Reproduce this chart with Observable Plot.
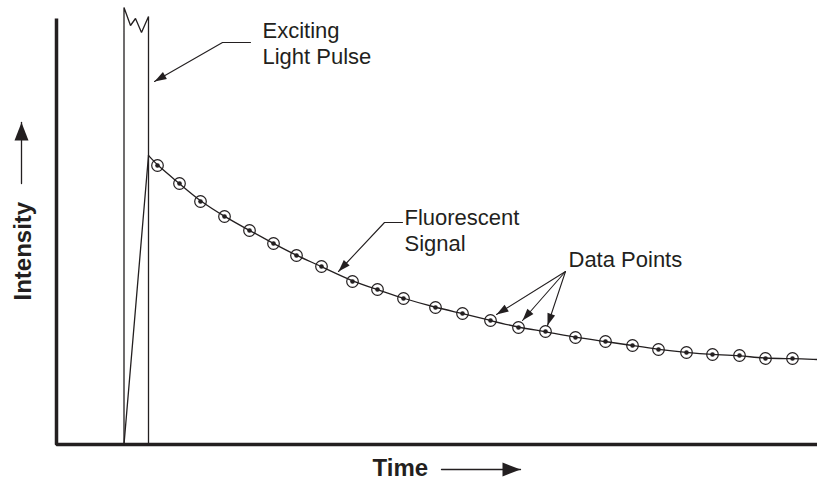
<!DOCTYPE html>
<html>
<head>
<meta charset="utf-8">
<script src="https://cdn.jsdelivr.net/npm/d3@7"></script>
<script src="https://cdn.jsdelivr.net/npm/@observablehq/plot@0.6"></script>
<style>
  html, body { margin: 0; padding: 0; background: #fff; }
  svg { display: block; }
</style>
</head>
<body>
<div id="chart"></div>
<script>
// ---- Data (time and intensity in arbitrary units) ----
const pointTime      = [10.1, 12.3, 14.4, 16.8, 19.3, 21.7, 24.0, 26.5, 29.6, 32.1, 34.7, 37.9, 40.6, 43.4, 46.2, 48.9, 51.9, 54.9, 57.6, 60.2, 63.0, 65.6, 68.3, 70.9, 73.6];
const pointIntensity = [27.9, 26.1, 24.3, 22.8, 21.4, 20.1, 18.9, 17.8, 16.3, 15.5, 14.6, 13.7, 13.1, 12.4, 11.7, 11.3, 10.7, 10.3, 9.9, 9.5, 9.2, 9.0, 8.9, 8.6, 8.6];

const signalStart = [9.2, 28.9];
const signalEnd   = [76.1, 8.5];

const pulseTime      = [6.75, 6.75, 7.4, 7.9, 8.5, 9.2, 9.2];
const pulseIntensity = [0, 43.7, 41.9, 42.6, 41.2, 42.8, 0];
const riseTime       = [6.75, 9.2];
const riseIntensity  = [0, 28.9];

const axisTime      = [0, 0, 76.1];
const axisIntensity = [42.6, 0, 0];

const labelText = ["Exciting\nLight Pulse", "Fluorescent\nSignal", "Data Points"];
const labelTime = [20.6, 34.8, 51.2];
const labelIntensity = [38.1, 19.4, 17.8];

// leader polylines: group, time, intensity (last point of each group is the arrow tip)
const leaderGroup     = ["a","a","a", "b","b","b", "c","c", "d","d", "e","e"];
const leaderTime      = [19.4, 16.6, 9.8,  34.6, 32.8, 28.2,  50.9, 44.0,  50.9, 46.6,  50.9, 49.1];
const leaderIntensity = [40.2, 40.2, 36.3, 22.2, 22.2, 17.3,  17.3, 13.0,  17.3, 12.4,  17.3, 11.9];

// axis titles
const axisTitleText = ["Intensity", "Time"];
const axisTitleTime = [-2.6, 31.6];
const axisTitleIntensity = [14.4, -3.1];
const axisTitleRotate = [-90, 0];

// axis-title arrows: tail -> tip
const titleArrowGroup = ["y","y","x","x"];
const titleArrowTime = [-3.5, -3.5, 38.5, 46.4];
const titleArrowIntensity = [26.1, 32.2, -2.5, -2.5];

// ---- Build tables ----
const points = pointTime.map((t, i) => ({t, v: pointIntensity[i]}));
const signal = [{t: signalStart[0], v: signalStart[1]}, ...points, {t: signalEnd[0], v: signalEnd[1]}];
const pulse = pulseTime.map((t, i) => ({t, v: pulseIntensity[i]}));
const rise = riseTime.map((t, i) => ({t, v: riseIntensity[i]}));
const axisLine = axisTime.map((t, i) => ({t, v: axisIntensity[i]}));
const labels = labelText.map((s, i) => ({s, t: labelTime[i], v: labelIntensity[i]}));
const leaders = leaderGroup.map((g, i) => ({g, t: leaderTime[i], v: leaderIntensity[i]}));
const titles = axisTitleText.map((s, i) => ({s, t: axisTitleTime[i], v: axisTitleIntensity[i], r: axisTitleRotate[i]}));
const titleArrows = titleArrowGroup.map((g, i) => ({g, t: titleArrowTime[i], v: titleArrowIntensity[i]}));

// arrow tips with direction from previous point (x and y scales are both 10 px per unit)
function tips(rows) {
  const out = [];
  const groups = d3.groups(rows, d => d.g);
  for (const [, g] of groups) {
    const a = g[g.length - 2], b = g[g.length - 1];
    out.push({t: b.t, v: b.v, angle: Math.atan2(b.t - a.t, b.v - a.v) * 180 / Math.PI});
  }
  return out;
}
function head(L, w) {
  return {draw(ctx) { ctx.moveTo(0, 0); ctx.lineTo(-w, L); ctx.lineTo(w, L); ctx.closePath(); }};
}

const ink = "#231f20";

const chart = Plot.plot({
  width: 817,
  height: 480,
  marginLeft: 56,
  marginRight: 0,
  marginTop: 0,
  marginBottom: 36,
  x: {domain: [0, 76.1], axis: null},
  y: {domain: [0, 44.4], axis: null},
  style: {background: "#fff", fontFamily: "'Liberation Sans', Arial, Helvetica, sans-serif", color: ink},
  marks: [
    Plot.line(axisLine, {x: "t", y: "v", stroke: ink, strokeWidth: 3.5, strokeLinejoin: "miter", strokeLinecap: "butt"}),
    Plot.line(pulse, {x: "t", y: "v", stroke: ink, strokeWidth: 1.3, strokeLinejoin: "miter"}),
    Plot.line(rise, {x: "t", y: "v", stroke: ink, strokeWidth: 1.3}),
    Plot.line(signal, {x: "t", y: "v", stroke: ink, strokeWidth: 1.3, curve: "basis"}),
    Plot.dot(points, {x: "t", y: "v", r: 5.8, stroke: ink, strokeWidth: 1.2, fill: "none"}),
    Plot.dot(points, {x: "t", y: "v", r: 2.3, fill: ink}),
    Plot.line(leaders, {x: "t", y: "v", z: "g", stroke: ink, strokeWidth: 1.1}),
    Plot.dot(tips(leaders), {x: "t", y: "v", rotate: "angle", symbol: head(12, 4), r: 3, fill: ink, stroke: "none"}),
    Plot.line(titleArrows, {x: "t", y: "v", z: "g", stroke: ink, strokeWidth: 1.3}),
    Plot.dot(tips(titleArrows), {x: "t", y: "v", rotate: "angle", symbol: head(18, 7), r: 3, fill: ink, stroke: "none"}),
    Plot.text(labels, {x: "t", y: "v", text: "s", textAnchor: "start", lineAnchor: "bottom", lineHeight: 1.14, fontSize: 22, fill: ink}),
    Plot.text(titles, {x: "t", y: "v", text: "s", rotate: "r", textAnchor: "start", lineAnchor: "bottom", fontSize: 24, fontWeight: "bold", fill: ink})
  ]
});
document.getElementById("chart").appendChild(chart);
</script>
</body>
</html>
